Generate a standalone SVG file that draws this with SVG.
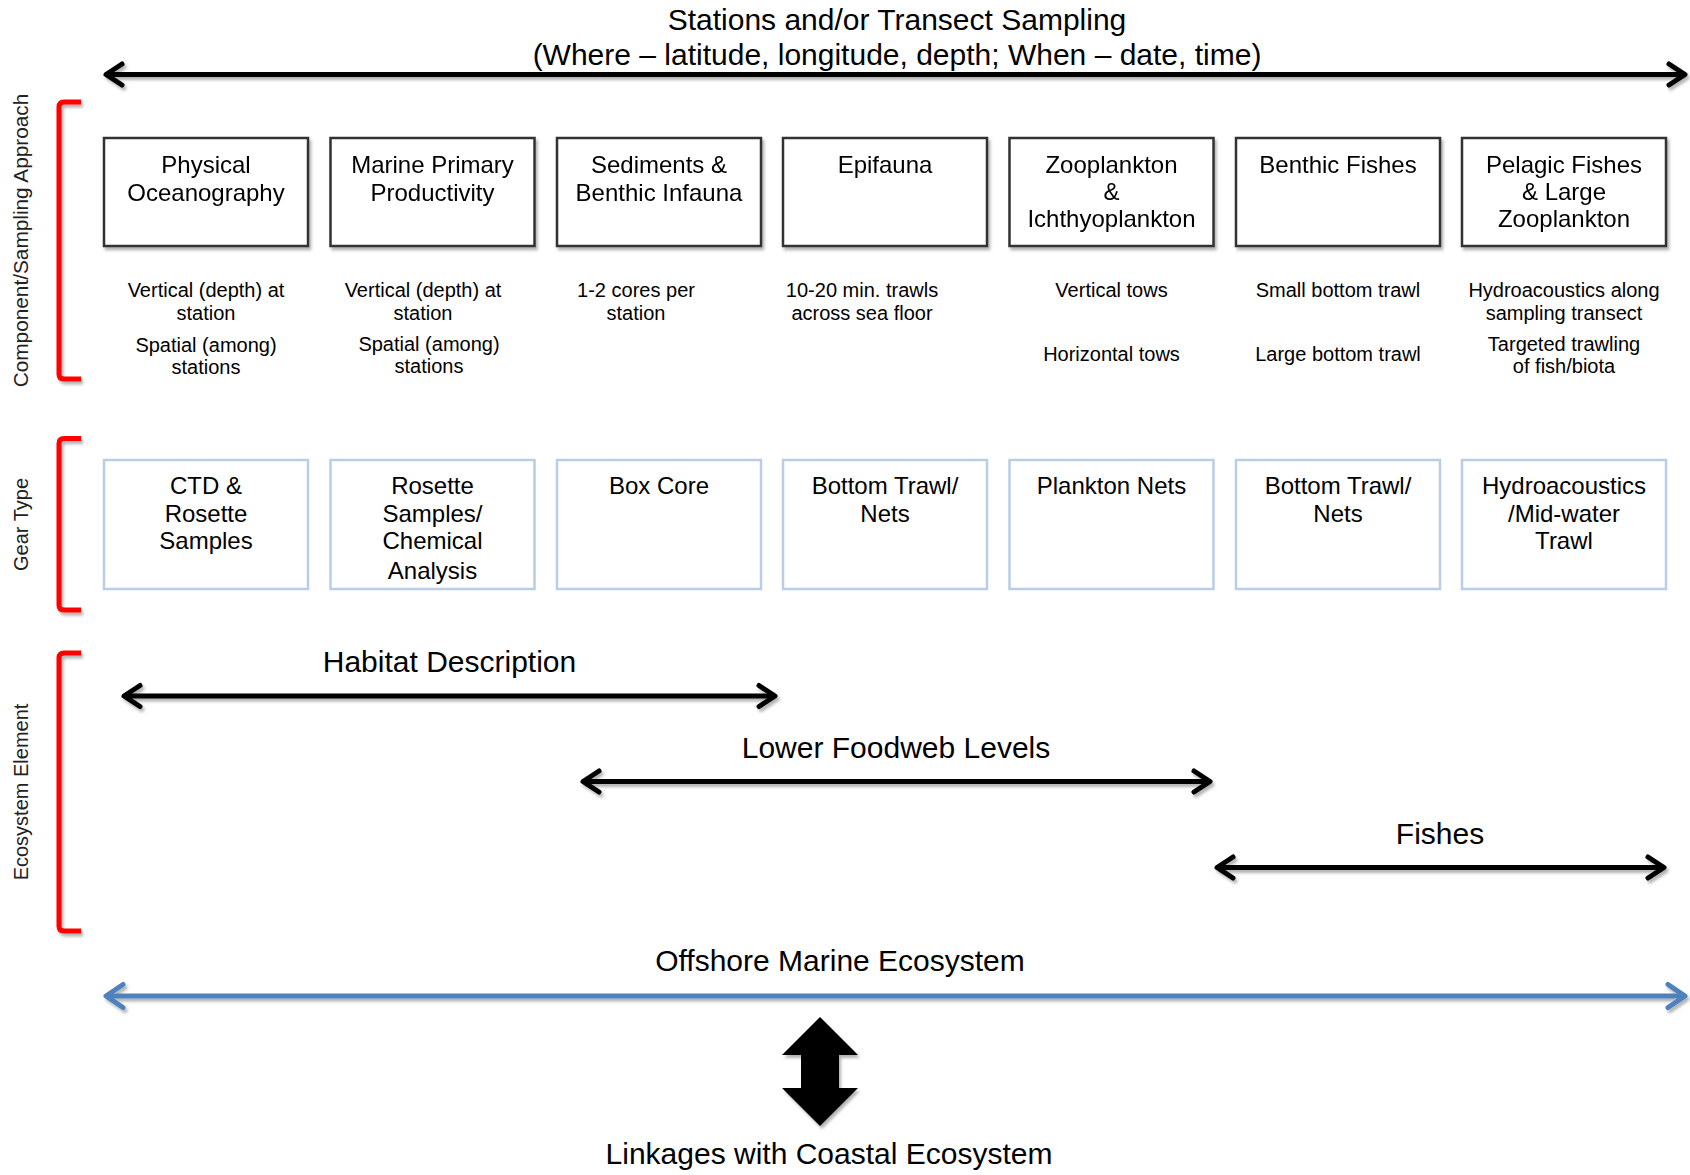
<svg xmlns="http://www.w3.org/2000/svg" width="1690" height="1175" viewBox="0 0 1690 1175">
<style>
text{font-family:"Liberation Sans",Arial,sans-serif;fill:#000;text-anchor:middle}
.t30{font-size:30px}
.t24{font-size:24px}
.t20{font-size:20px}
.side{font-size:20px;fill:#222}
.comp{fill:#fff;stroke:#333;stroke-width:2.5}
.gear{fill:#fff;stroke:#b9cde5;stroke-width:2.5}
.brk{fill:none;stroke:#ff0000;stroke-width:5;stroke-linejoin:round}
.blk{stroke:#000;stroke-width:5;fill:none}
.blu{stroke:#4f81bd;stroke-width:5;fill:none}
</style>
<defs>
<filter id="sh" filterUnits="userSpaceOnUse" x="0" y="0" width="1690" height="1175">
<feDropShadow dx="2" dy="3" stdDeviation="1.6" flood-color="#000" flood-opacity="0.3"/>
</filter>
<marker id="ak" viewBox="-22 -15 26 30" refX="0" refY="0" markerWidth="26" markerHeight="30" markerUnits="userSpaceOnUse" orient="auto-start-reverse">
<path d="M-16,-10.5 L0,0 L-16,10.5" fill="none" stroke="#000" stroke-width="5" stroke-linecap="round" stroke-linejoin="round"/>
</marker>
<marker id="ab" viewBox="-22 -15 26 30" refX="0" refY="0" markerWidth="26" markerHeight="30" markerUnits="userSpaceOnUse" orient="auto-start-reverse">
<path d="M-17,-11.5 L0,0 L-17,11.5" fill="none" stroke="#4f81bd" stroke-width="5" stroke-linecap="round" stroke-linejoin="round"/>
</marker>
</defs>
<rect width="1690" height="1175" fill="#fff"/>

<g id="title">
<text class="t30" x="897" y="30">Stations and/or Transect Sampling</text>
<text class="t30" x="897" y="65">(Where – latitude, longitude, depth; When – date, time)</text>
</g>

<g id="side-labels">
<text class="side" style="font-size:20.8px" transform="translate(28,240.5) rotate(-90)">Component/Sampling Approach</text>
<text class="side" transform="translate(27.5,524.5) rotate(-90)">Gear Type</text>
<text class="side" transform="translate(27.5,792) rotate(-90)">Ecosystem Element</text>
</g>

<g id="brackets" filter="url(#sh)">
<path class="brk" d="M81,102 H64 Q59,102 59,107 V374 Q59,379 64,379 H81"/>
<path class="brk" d="M81,438.5 H64 Q59,438.5 59,443.5 V605 Q59,610 64,610 H81"/>
<path class="brk" d="M81,653 H64 Q59,653 59,658 V926 Q59,931 64,931 H81"/>
</g>

<g id="components" filter="url(#sh)">
<g id="n-physical"><rect class="comp" x="104" y="138" width="204" height="108"/><text class="t24" x="206" y="173">Physical</text><text class="t24" x="206" y="201">Oceanography</text></g>
<g id="n-primary"><rect class="comp" x="330.5" y="138" width="204" height="108"/><text class="t24" x="432.5" y="173">Marine Primary</text><text class="t24" x="432.5" y="201">Productivity</text></g>
<g id="n-sediments"><rect class="comp" x="557" y="138" width="204" height="108"/><text class="t24" x="659" y="173">Sediments &amp;</text><text class="t24" x="659" y="201">Benthic Infauna</text></g>
<g id="n-epifauna"><rect class="comp" x="783" y="138" width="204" height="108"/><text class="t24" x="885" y="173">Epifauna</text></g>
<g id="n-zooplankton"><rect class="comp" x="1009.5" y="138" width="204" height="108"/><text class="t24" x="1111.5" y="173">Zooplankton</text><text class="t24" x="1111.5" y="200">&amp;</text><text class="t24" x="1111.5" y="227">Ichthyoplankton</text></g>
<g id="n-benthic-fishes"><rect class="comp" x="1236" y="138" width="204" height="108"/><text class="t24" x="1338" y="173">Benthic Fishes</text></g>
<g id="n-pelagic"><rect class="comp" x="1462" y="138" width="204" height="108"/><text class="t24" x="1564" y="173">Pelagic Fishes</text><text class="t24" x="1564" y="200">&amp; Large</text><text class="t24" x="1564" y="227">Zooplankton</text></g>
</g>

<g id="approach">
<text class="t20" x="206" y="297">Vertical (depth) at</text><text class="t20" x="206" y="320">station</text>
<text class="t20" x="206" y="352">Spatial (among)</text><text class="t20" x="206" y="374">stations</text>
<text class="t20" x="423" y="297">Vertical (depth) at</text><text class="t20" x="423" y="320">station</text>
<text class="t20" x="429" y="351">Spatial (among)</text><text class="t20" x="429" y="373">stations</text>
<text class="t20" x="636" y="297">1-2 cores per</text><text class="t20" x="636" y="320">station</text>
<text class="t20" x="862" y="297">10-20 min. trawls</text><text class="t20" x="862" y="320">across sea floor</text>
<text class="t20" x="1111.5" y="297">Vertical tows</text><text class="t20" x="1111.5" y="361">Horizontal tows</text>
<text class="t20" x="1338" y="297">Small bottom trawl</text><text class="t20" x="1338" y="361">Large bottom trawl</text>
<text class="t20" x="1564" y="297">Hydroacoustics along</text><text class="t20" x="1564" y="320">sampling transect</text>
<text class="t20" x="1564" y="351">Targeted trawling</text><text class="t20" x="1564" y="373">of fish/biota</text>
</g>

<g id="gear">
<g id="g-ctd"><rect class="gear" x="104" y="460" width="204" height="129"/><text class="t24" x="206" y="494">CTD &amp;</text><text class="t24" x="206" y="521.5">Rosette</text><text class="t24" x="206" y="549">Samples</text></g>
<g id="g-rosette"><rect class="gear" x="330.5" y="460" width="204" height="129"/><text class="t24" x="432.5" y="494">Rosette</text><text class="t24" x="432.5" y="521.5">Samples/</text><text class="t24" x="432.5" y="549">Chemical</text><text class="t24" x="432.5" y="579">Analysis</text></g>
<g id="g-boxcore"><rect class="gear" x="557" y="460" width="204" height="129"/><text class="t24" x="659" y="494">Box Core</text></g>
<g id="g-trawl1"><rect class="gear" x="783" y="460" width="204" height="129"/><text class="t24" x="885" y="494">Bottom Trawl/</text><text class="t24" x="885" y="521.5">Nets</text></g>
<g id="g-plankton"><rect class="gear" x="1009.5" y="460" width="204" height="129"/><text class="t24" x="1111.5" y="494">Plankton Nets</text></g>
<g id="g-trawl2"><rect class="gear" x="1236" y="460" width="204" height="129"/><text class="t24" x="1338" y="494">Bottom Trawl/</text><text class="t24" x="1338" y="521.5">Nets</text></g>
<g id="g-hydro"><rect class="gear" x="1462" y="460" width="204" height="129"/><text class="t24" x="1564" y="494">Hydroacoustics</text><text class="t24" x="1564" y="521.5">/Mid-water</text><text class="t24" x="1564" y="549">Trawl</text></g>
</g>

<g id="ecosystem-labels">
<text class="t30" x="449.5" y="672">Habitat Description</text>
<text class="t30" x="896" y="758">Lower Foodweb Levels</text>
<text class="t30" x="1440" y="843.5">Fishes</text>
<text class="t30" x="840" y="971">Offshore Marine Ecosystem</text>
<text class="t30" x="829" y="1164">Linkages with Coastal Ecosystem</text>
</g>

<g id="connectors" filter="url(#sh)">
<line class="blk" x1="106" y1="74.5" x2="1685" y2="74.5" marker-start="url(#ak)" marker-end="url(#ak)"/>
<line class="blk" x1="124" y1="696" x2="775" y2="696" marker-start="url(#ak)" marker-end="url(#ak)"/>
<line class="blk" x1="583" y1="781.5" x2="1210" y2="781.5" marker-start="url(#ak)" marker-end="url(#ak)"/>
<line class="blk" x1="1217" y1="867.5" x2="1664" y2="867.5" marker-start="url(#ak)" marker-end="url(#ak)"/>
<line class="blu" x1="106" y1="996" x2="1685" y2="996" marker-start="url(#ab)" marker-end="url(#ab)"/>
<polygon points="820,1017 858,1055 839,1055 839,1088 858,1088 820,1126 782,1088 801,1088 801,1055 782,1055" fill="#000"/>
</g>
</svg>
